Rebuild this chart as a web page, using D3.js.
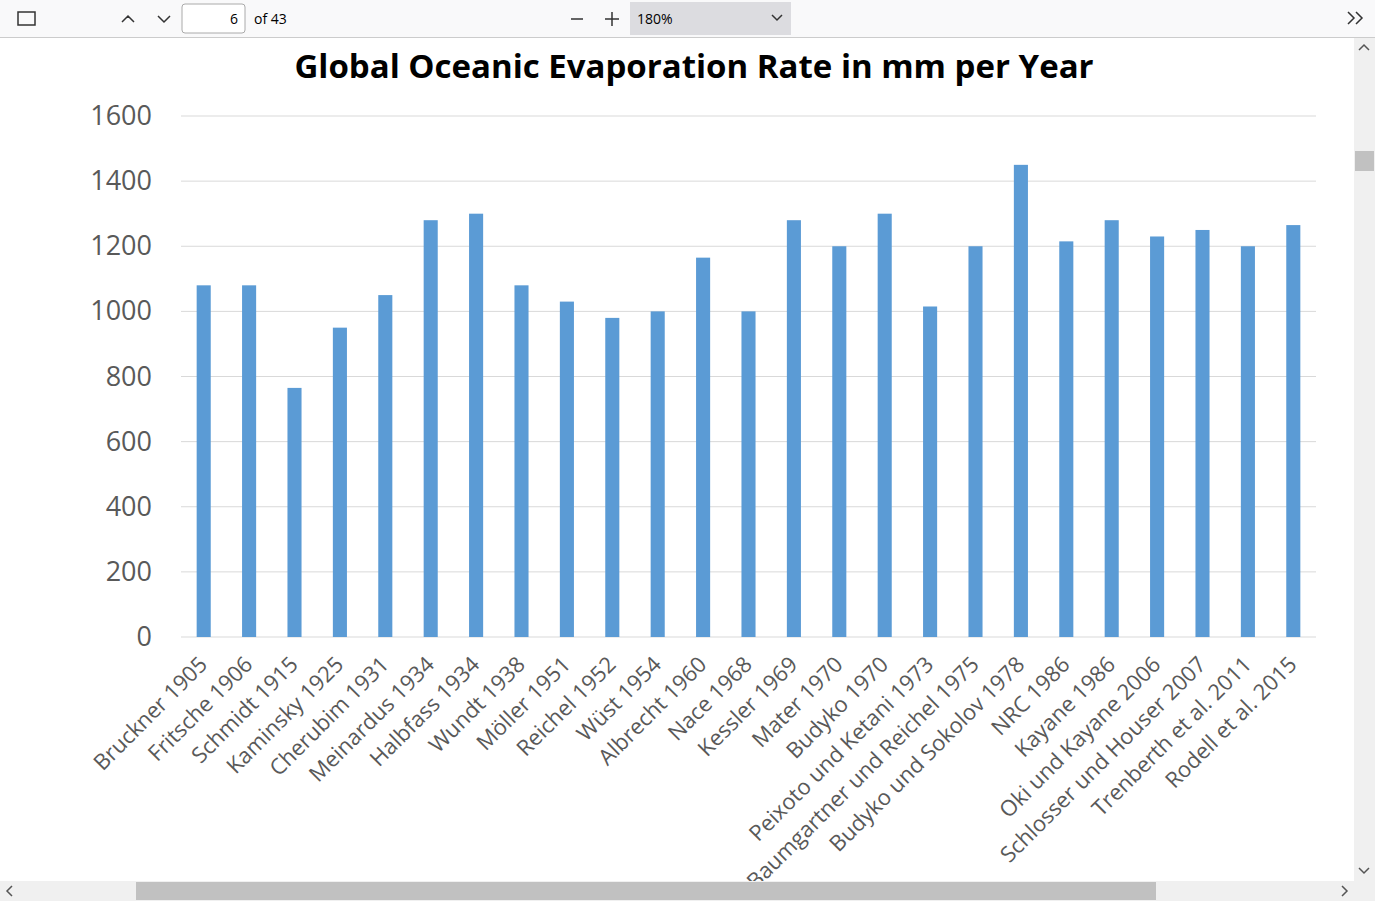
<!DOCTYPE html>
<html>
<head>
<meta charset="utf-8">
<script src="https://cdn.jsdelivr.net/npm/d3@7"></script>
<style>
  body { margin: 0; overflow: hidden; background: #fff; font-family: "Open Sans", sans-serif; }
</style>
</head>
<body>
<svg id="page" width="1375" height="901"></svg>
<script>
const authors = ["Bruckner 1905", "Fritsche 1906", "Schmidt 1915", "Kaminsky 1925", "Cherubim 1931",
  "Meinardus 1934", "Halbfass 1934", "Wundt 1938", "Möller 1951", "Reichel 1952", "Wüst 1954",
  "Albrecht 1960", "Nace 1968", "Kessler 1969", "Mater 1970", "Budyko 1970",
  "Peixoto und Ketani 1973", "Baumgartner und Reichel 1975", "Budyko und Sokolov 1978",
  "NRC 1986", "Kayane 1986", "Oki und Kayane 2006", "Schlosser und Houser 2007",
  "Trenberth et al. 2011", "Rodell et al. 2015"];
const evaporation = [1080, 1080, 765, 950, 1050, 1280, 1300, 1080, 1030, 980, 1000,
  1165, 1000, 1280, 1200, 1300, 1015, 1200, 1450, 1215, 1280, 1230, 1250, 1200, 1265];
const yTicks = [0, 200, 400, 600, 800, 1000, 1200, 1400, 1600];

const svg = d3.select("#page");

// chart area (clipped by the viewer frame)
svg.append("clipPath").attr("id", "view")
  .append("rect").attr("x", 0).attr("y", 38).attr("width", 1354).attr("height", 843);
const g = svg.append("g").attr("clip-path", "url(#view)");

const x = d3.scaleBand().domain(authors).range([181, 1316]).paddingInner(0.69).paddingOuter(0.345);
const y = d3.scaleLinear().domain([0, 1600]).range([637, 116]);

g.append("text").attr("x", 694).attr("y", 78).attr("text-anchor", "middle")
  .style("font-size", "33px").style("font-weight", "bold").style("font-family", "'Open Sans', sans-serif")
  .text("Global Oceanic Evaporation Rate in mm per Year");

g.selectAll("line.grid").data(yTicks).join("line")
  .attr("x1", 181).attr("x2", 1316)
  .attr("y1", d => y(d)).attr("y2", d => y(d))
  .attr("stroke", "#d9d9d9").attr("stroke-width", 1);

g.selectAll("text.ytick").data(yTicks).join("text")
  .attr("x", 152).attr("y", d => y(d) + 9).attr("text-anchor", "end")
  .style("font-size", "27px").attr("fill", "#595959").text(d => d);

g.selectAll("rect.bar").data(evaporation).join("rect")
  .attr("x", (d, i) => x(authors[i])).attr("width", x.bandwidth())
  .attr("y", d => y(d)).attr("height", d => y(0) - y(d))
  .attr("fill", "#5b9bd5");

g.selectAll("text.xlab").data(authors).join("text")
  .attr("transform", d => `translate(${x(d) + x.bandwidth() / 2 - 6},${655}) rotate(-45)`)
  .attr("text-anchor", "end").attr("dy", "0.7em")
  .style("font-size", "22px").attr("fill", "#595959").text(d => d);

// viewer chrome
const tb = svg.append("g");
tb.append("rect").attr("width", 1375).attr("height", 37).attr("fill", "#f9f9fa");
tb.append("line").attr("x1", 0).attr("x2", 1375).attr("y1", 37.5).attr("y2", 37.5).attr("stroke", "#ccc");
tb.append("rect").attr("x", 182).attr("y", 4).attr("width", 63).attr("height", 29).attr("rx", 3)
  .attr("fill", "#fff").attr("stroke", "#aaa");
tb.append("text").attr("x", 238).attr("y", 24).attr("text-anchor", "end").style("font-size", "14px").text("6");
tb.append("text").attr("x", 254).attr("y", 24).style("font-size", "14px").text("of 43");
tb.append("rect").attr("x", 630).attr("y", 2).attr("width", 161).attr("height", 33).attr("fill", "#dcdce0");
tb.append("text").attr("x", 637).attr("y", 24).style("font-size", "14px").text("180%");
tb.append("path").attr("d", "M772,15 l5,5 l5,-5").attr("fill", "none").attr("stroke", "#333").attr("stroke-width", 1.5);
tb.append("path").attr("d", "M122,22 l6,-6 l6,6 M158,16 l6,6 l6,-6 M571,19 h12 M605,19 h14 M612,12 v14")
  .attr("fill", "none").attr("stroke", "#333").attr("stroke-width", 1.5);
tb.append("rect").attr("x", 18).attr("y", 12).attr("width", 17).attr("height", 13).attr("fill", "none").attr("stroke", "#333").attr("stroke-width", 1.5);
tb.append("path").attr("d", "M1348,12 l6,6 l-6,6 M1356,12 l6,6 l-6,6").attr("fill", "none").attr("stroke", "#333").attr("stroke-width", 1.5);

// scrollbars
svg.append("rect").attr("x", 1354).attr("y", 38).attr("width", 21).attr("height", 843).attr("fill", "#f0f0f0");
svg.append("rect").attr("x", 1355).attr("y", 151).attr("width", 19).attr("height", 20).attr("fill", "#c1c1c1");
svg.append("rect").attr("x", 0).attr("y", 881).attr("width", 1375).attr("height", 20).attr("fill", "#f0f0f0");
svg.append("rect").attr("x", 136).attr("y", 882).attr("width", 1020).attr("height", 18).attr("fill", "#c1c1c1");
svg.append("path").attr("d", "M1359,50 l5,-5 l5,5 M1359,868 l5,5 l5,-5 M12,886 l-5,5 l5,5 M1342,886 l5,5 l-5,5")
  .attr("fill", "none").attr("stroke", "#555").attr("stroke-width", 1.5);
</script>
</body>
</html>
